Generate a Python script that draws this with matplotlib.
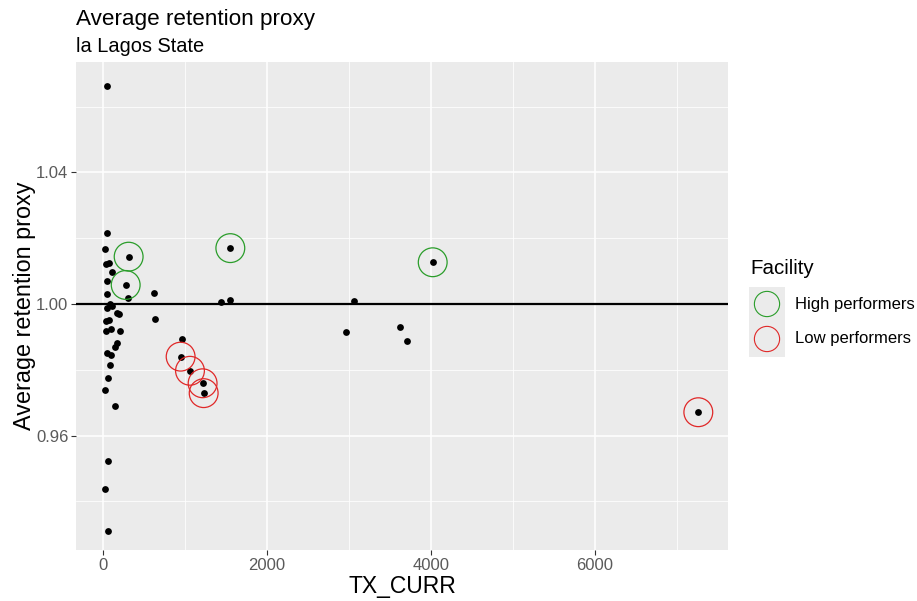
import matplotlib.pyplot as plt
from matplotlib.patches import Rectangle

plt.rcParams['font.family'] = ['Liberation Sans', 'DejaVu Sans']

# TX_CURR and retention proxy for each facility
tx_curr = [52, 45, 28, 313, 33, 70, 113, 45, 277, 45, 309, 618, 82, 52, 110,
           167, 195, 634, 37, 77, 37, 98, 211, 171, 150, 52, 98, 85, 57, 28,
           143, 57, 28, 65, 967, 947, 1061, 1215, 1228, 1435, 1553, 1553,
           3065, 2963, 3622, 3704, 4021, 7260]
retention = [1.0663, 1.0215, 1.0167, 1.0144, 1.0121, 1.0126, 1.0098, 1.0071,
             1.0058, 1.0031, 1.0019, 1.0033, 1.0000, 0.9989, 0.9994, 0.9974,
             0.9969, 0.9953, 0.9948, 0.9951, 0.9919, 0.9925, 0.9917, 0.9882,
             0.9868, 0.9851, 0.9846, 0.9814, 0.9775, 0.9738, 0.9690, 0.9524,
             0.9439, 0.9311, 0.9895, 0.9840, 0.9797, 0.9759, 0.9729, 1.0007,
             1.0012, 1.0170, 1.0008, 0.9914, 0.9929, 0.9888, 1.0127, 0.9671]
# facility group ('' = not highlighted)
facility = ['', '', '', 'High performers', '', '', '', '', 'High performers',
            '', '', '', '', '', '', '', '', '', '', '', '', '', '', '', '',
            '', '', '', '', '', '', '', '', '', '', 'Low performers',
            'Low performers', 'Low performers', 'Low performers', '', '',
            'High performers', '', '', '', '', 'High performers',
            'Low performers']
groups = ['High performers', 'Low performers']
group_colors = {'High performers': '#2a9d2a', 'Low performers': '#e02828'}

x_ticks = [0, 2000, 4000, 6000]
y_ticks = [0.96, 1.00, 1.04]

fig = plt.figure(figsize=(9.17, 6.01), dpi=100)
ax = fig.add_axes([76 / 917, 1 - 550 / 601, 652 / 917, 488 / 601])
ax.set_facecolor('#EBEBEB')
for s in ax.spines.values():
    s.set_visible(False)

ax.set_xlim(-329, 7622)
ax.set_ylim(0.9252, 1.0736)
ax.set_xticks(x_ticks)
ax.set_yticks(y_ticks)
ax.set_yticklabels([f'{v:.2f}' for v in y_ticks])
ax.set_xticks([1000, 3000, 5000, 7000], minor=True)
ax.set_yticks([0.94, 0.98, 1.02, 1.06], minor=True)
ax.grid(True, which='major', color='white', lw=1.1)
ax.grid(True, which='minor', color='white', lw=0.55)
ax.set_axisbelow(True)
ax.tick_params(which='major', colors='#333333', labelcolor='#5A5A5A',
               labelsize=12, length=3.5, width=0.8, pad=2)
ax.tick_params(which='minor', length=0)

ax.scatter(tx_curr, retention, s=24, color='black', zorder=3, linewidths=0)
ax.axhline(1.0, color='black', lw=1.6, zorder=2)

for g in groups:
    gx = [x for x, f in zip(tx_curr, facility) if f == g]
    gy = [y for y, f in zip(retention, facility) if f == g]
    ax.scatter(gx, gy, s=430, facecolors='none', edgecolors=group_colors[g],
               linewidths=0.9, zorder=4)

ax.set_xlabel('TX_CURR', fontsize=16.5, labelpad=2)
ax.set_ylabel('Average retention proxy', fontsize=16.8, labelpad=0)

fig.text(76 / 917, 1 - 20 / 601, 'Average retention proxy', fontsize=16.2,
         va='center', ha='left')
fig.text(76 / 917, 1 - 47 / 601, 'la Lagos State', fontsize=14.4,
         va='center', ha='left')

# legend
lax = fig.add_axes([0, 0, 1, 1])
lax.set_xlim(0, 917)
lax.set_ylim(601, 0)
lax.axis('off')
lax.text(750, 268, 'Facility', fontsize=14.8, va='center', ha='left')
for i, g in enumerate(groups):
    cy = 304 + i * 35
    lax.add_patch(Rectangle((749, cy - 17.5), 36, 35, facecolor='#EBEBEB',
                            edgecolor='none'))
    lax.scatter([767], [cy], s=330, facecolors='none',
                edgecolors=group_colors[g], linewidths=0.8)
    lax.text(795, cy, g, fontsize=12, va='center', ha='left')

fig.savefig('out.png', dpi=100)
